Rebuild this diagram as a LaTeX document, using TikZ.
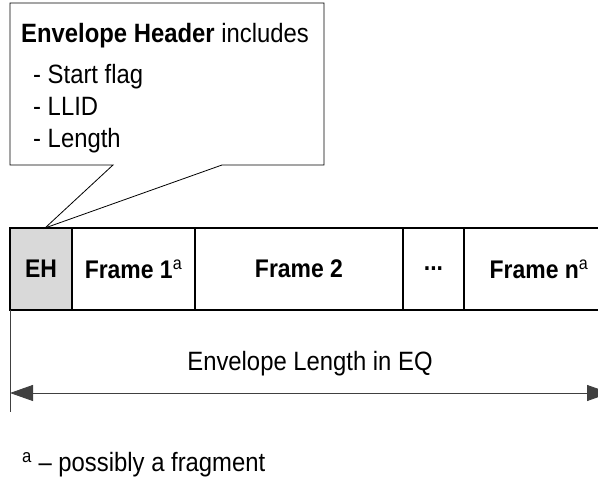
\documentclass[tikz,border=0pt]{standalone}
\usepackage{fontspec}
\setmainfont{Liberation Sans}[FakeStretch=0.9]
\usepackage{tikz}
\usetikzlibrary{arrows.meta,positioning,calc}

\begin{document}
\begin{tikzpicture}[x=1pt,y=1pt,>={Triangle[length=23pt,width=16pt]},node distance=0pt,
    font=\fontsize{26.5}{32}\selectfont]
  \useasboundingbox (0,0) rectangle (598,482);
  \clip (0,0) rectangle (598,482);
  \tikzset{frm/.style={draw,line width=1.5pt,minimum height=82pt,inner sep=0pt,outer sep=0pt,
      font=\fontsize{25.5}{30}\selectfont\bfseries}}
  \tikzset{note/.style={minimum width=314pt,minimum height=162pt,inner sep=0pt,outer sep=0pt}}
  \tikzset{dim/.style={<->,line width=0.9pt,draw=black!75}}
  % the envelope: header, frames
  \node[frm,fill=black!15,minimum width=62pt] (EH) at (41,213) {EH};
  \node[frm,minimum width=123pt] (F1) [right =of EH] {Frame 1\textsuperscript{\mdseries a}};
  \node[frm,minimum width=208pt] (F2) [right =of F1] {Frame 2};
  \node[frm,minimum width=61pt]  (DOTS) [right =of F2] {...};
  \node[frm,minimum width=150pt] (FN) [right =of DOTS] {Frame n\textsuperscript{\mdseries a}};
  % callout for the header
  \node[note] (NOTE) at (167,398) {};
  \node[anchor=north west,align=left,inner sep=0pt] (NOTETXT) at ([shift={(11,-20)}]NOTE.north west)
    {\textbf{Envelope Header} includes\\[9pt]
     \hspace*{12pt}- Start flag\\
     \hspace*{12pt}- LLID\\
     \hspace*{12pt}- Length};
  \coordinate (TIP) at ([xshift=4pt]EH.north);
  \draw[line width=0.8pt] (NOTE.north west) -- (NOTE.north east) -- (NOTE.south east)
    -- ($(NOTE.south)+(55,0)$) -- (TIP) -- ($(NOTE.south)+(-54,0)$) -- (NOTE.south west) -- cycle;
  % length of the envelope
  \coordinate (EXT) at (10,70);
  \coordinate (DIML) at (10,89);
  \coordinate (DIMR) at (610,89);
  \draw[line width=0.8pt,black!75] (EH.south west) -- (EXT);
  \draw[dim] (DIML) -- (DIMR);
  \node (LEN) at (310,118) {Envelope Length in EQ};
  \node[anchor=base west,inner sep=0pt] (FOOT) at (22,10) {\textsuperscript{a} -- possibly a fragment};
\end{tikzpicture}
\end{document}
